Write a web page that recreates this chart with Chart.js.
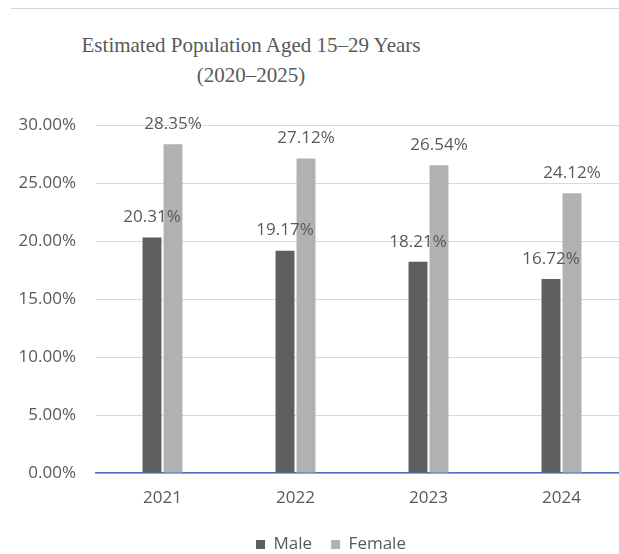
<!DOCTYPE html>
<html>
<head>
<meta charset="utf-8">
<script src="https://cdn.jsdelivr.net/npm/chart.js@4"></script>
<style>
  html, body { margin: 0; padding: 0; background: #fff; overflow: hidden; width: 619px; height: 554px; }
  #wrap { position: relative; width: 619px; height: 554px; overflow: hidden; }
  #rule { position: absolute; top: 8px; left: 11px; right: 0; height: 1px; background: #d6d6d6; }
  #headline {
    position: absolute; top: 30px; left: 51px; width: 400px; text-align: center;
    font-family: "Liberation Serif", serif; font-size: 21px; line-height: 30px; color: #595959;
  }
  canvas { position: absolute; top: 0; left: 0; }
</style>
</head>
<body>
<div id="wrap">
  <div id="rule"></div>
  <div id="headline">Estimated Population Aged 15–29 Years<br>(2020–2025)</div>
  <canvas id="c" width="640" height="554"></canvas>
</div>
<script>
const years = ['2021', '2022', '2023', '2024'];
const male = [20.31, 19.17, 18.21, 16.72];
const female = [28.35, 27.12, 26.54, 24.12];
const yTicks = [0, 5, 10, 15, 20, 25, 30];

const textColor = '#595959';
const uiFont = '"Open Sans", "Noto Sans", sans-serif';

// Writes each bar's value just above its top
const valueLabels = {
  id: 'valueLabels',
  afterDatasetsDraw(chart) {
    const ctx = chart.ctx;
    ctx.save();
    ctx.font = '17px ' + uiFont;
    ctx.fillStyle = textColor;
    ctx.textAlign = 'center';
    ctx.textBaseline = 'middle';
    chart.data.datasets.forEach((ds, i) => {
      chart.getDatasetMeta(i).data.forEach((bar, j) => {
        ctx.fillText(ds.data[j].toFixed(2) + '%', bar.x, bar.y - 20);
      });
    });
    ctx.restore();
  }
};

// Moves the legend row a little to the right of the canvas centre
const legendShift = {
  id: 'legendShift',
  afterLayout(chart) {
    if (chart.legend) chart.legend.left += 34;
  }
};

new Chart(document.getElementById('c'), {
  type: 'bar',
  data: {
    labels: years,
    datasets: [
      { label: 'Male', data: male, backgroundColor: '#5e5e5e' },
      { label: 'Female', data: female, backgroundColor: '#b1b1b1' }
    ]
  },
  options: {
    responsive: false,
    animation: false,
    layout: { padding: { top: 125, right: 12, left: 0, bottom: -9 } },
    datasets: { bar: { categoryPercentage: 0.316, barPercentage: 0.9 } },
    scales: {
      x: {
        afterFit(scale) { scale.height = 44; },
        grid: { display: false },
        border: { display: true, color: '#4472c4', width: 1.5 },
        ticks: { color: textColor, font: { family: uiFont, size: 17 }, padding: 7 }
      },
      y: {
        min: 0, max: 30,
        afterFit(scale) { scale.width = 96; },
        afterBuildTicks(scale) { scale.ticks = yTicks.map(v => ({ value: v })); },
        grid: { color: '#d9d9d9', drawTicks: false },
        border: { display: false },
        ticks: {
          color: textColor, font: { family: uiFont, size: 17 }, padding: 20,
          callback: v => v.toFixed(2) + '%'
        }
      }
    },
    plugins: {
      title: { display: false },
      tooltip: { enabled: false },
      legend: {
        position: 'bottom',
        labels: { color: textColor, font: { family: uiFont, size: 17 }, boxWidth: 9, boxHeight: 9, padding: 19 }
      }
    }
  },
  plugins: [valueLabels, legendShift]
});
</script>
</body>
</html>
